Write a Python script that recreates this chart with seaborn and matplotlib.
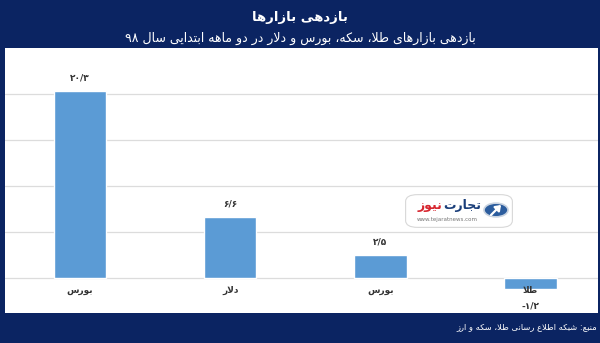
import re
import matplotlib
matplotlib.use("Agg")
import matplotlib.pyplot as plt
from matplotlib.patches import FancyBboxPatch, Circle, FancyArrowPatch
import seaborn as sns
import pandas as pd

# ---------------- data ----------------
categories = ["بورس", "دلار", "بورس", "طلا"]
values = [20.3, 6.6, 2.5, -1.2]
value_labels = ["۲۰/۳", "۶/۶", "۲/۵", "-۱/۲"]
title = "بازدهی بازارها"
subtitle = "بازدهی بازارهای طلا، سکه، بورس و دلار در دو ماهه ابتدایی سال ۹۸"
footer = "منبع: شبکه اطلاع رسانی طلا، سکه و ارز"
grid_ticks = [0, 5, 10, 15, 20]

# ---------------- minimal Persian shaping + bidi ----------------
FORMS = {
    '\u0627': ('\uFE8D', '\uFE8E', None, None),
    '\u0628': ('\uFE8F', '\uFE90', '\uFE91', '\uFE92'),
    '\u062A': ('\uFE95', '\uFE96', '\uFE97', '\uFE98'),
    '\u062C': ('\uFE9D', '\uFE9E', '\uFE9F', '\uFEA0'),
    '\u062F': ('\uFEA9', '\uFEAA', None, None),
    '\u0631': ('\uFEAD', '\uFEAE', None, None),
    '\u0632': ('\uFEAF', '\uFEB0', None, None),
    '\u0633': ('\uFEB1', '\uFEB2', '\uFEB3', '\uFEB4'),
    '\u0634': ('\uFEB5', '\uFEB6', '\uFEB7', '\uFEB8'),
    '\u0637': ('\uFEC1', '\uFEC2', '\uFEC3', '\uFEC4'),
    '\u0639': ('\uFEC9', '\uFECA', '\uFECB', '\uFECC'),
    '\u0644': ('\uFEDD', '\uFEDE', '\uFEDF', '\uFEE0'),
    '\u0645': ('\uFEE1', '\uFEE2', '\uFEE3', '\uFEE4'),
    '\u0646': ('\uFEE5', '\uFEE6', '\uFEE7', '\uFEE8'),
    '\u0647': ('\uFEE9', '\uFEEA', '\uFEEB', '\uFEEC'),
    '\u0648': ('\uFEED', '\uFEEE', None, None),
    '\u06A9': ('\uFB8E', '\uFB8F', '\uFB90', '\uFB91'),
    '\u06CC': ('\uFBFC', '\uFBFD', '\uFBFE', '\uFBFF'),
}
LAM_ALEF = ('\uFEFB', '\uFEFC')


def _jt(u):
    if u == 'LA':
        return 'R'
    if u in FORMS:
        return 'D' if FORMS[u][2] else 'R'
    return 'U'


def shape(text):
    units, i = [], 0
    while i < len(text):
        if text[i] == '\u0644' and i + 1 < len(text) and text[i + 1] == '\u0627':
            units.append('LA'); i += 2
        else:
            units.append(text[i]); i += 1
    out = []
    for k, u in enumerate(units):
        t = _jt(u)
        if t == 'U':
            out.append(u); continue
        jp = k > 0 and _jt(units[k - 1]) == 'D'
        jn = t == 'D' and k + 1 < len(units) and _jt(units[k + 1]) in ('D', 'R')
        if u == 'LA':
            out.append(LAM_ALEF[1] if jp else LAM_ALEF[0]); continue
        f = FORMS[u]
        out.append(f[3] if jp and jn else f[1] if jp else f[2] if jn else f[0])
    return ''.join(out)


def fa(text):
    s = shape(text)
    toks = re.findall(r'[0-9\u06F0-\u06F9/.]+|[^0-9\u06F0-\u06F9/.]+', s)
    vis = []
    for t in reversed(toks):
        vis.append(t if re.fullmatch(r'[0-9\u06F0-\u06F9/.]+', t) else t[::-1])
    return ''.join(vis)


# ---------------- figure ----------------
sns.set_theme(style="white")
plt.rcParams['font.family'] = ['DejaVu Sans']

W, H = 600, 343
NAVY = "#0b2462"
BAR = "#5b9bd5"

fig = plt.figure(figsize=(6, 3.43), dpi=100, facecolor=NAVY)
renderer = fig.canvas.get_renderer()

def fx(px):
    return px / W

def fy(py):
    return 1 - py / H

ax_left, ax_right, ax_top, ax_bot = 5, 598, 48, 313
ax = fig.add_axes([fx(ax_left), fy(ax_bot), fx(ax_right - ax_left), (ax_bot - ax_top) / H])
ax.set_facecolor("white")

df = pd.DataFrame({"key": list(range(len(values))), "value": values})
sns.barplot(data=df, x="key", y="value", color=BAR, saturation=1, width=0.35, ax=ax)

ax.set_xlim(-0.5, 3.45)
ax.set_ylim(-3.8, 25.0)
ax.set_yticks(grid_ticks)
ax.set_yticklabels([])
ax.set_xticks([])
ax.set_xlabel("")
ax.set_ylabel("")
ax.tick_params(length=0)
ax.grid(axis="y", color="#dcdcdc", linewidth=0.9)
ax.set_axisbelow(True)
for s in ax.spines.values():
    s.set_visible(False)

for i, (cat, v, lab) in enumerate(zip(categories, values, value_labels)):
    ax.text(i, -1.4, fa(cat), ha="center", va="center", fontsize=6.5,
            fontweight="bold", color="#333333", zorder=5)
    ypos = v + 1.4 if v >= 0 else -3.0
    ax.text(i, ypos, lab, ha="center", va="center", fontsize=6.5,
            fontweight="bold", color="#333333")

# watermark logo
box = FancyBboxPatch((fx(408), fy(226)), fx(102), (226 - 196) / H,
                     boxstyle="round,pad=0.004,rounding_size=0.02",
                     transform=fig.transFigure, facecolor="white",
                     edgecolor="#d8d8d8", linewidth=0.8, zorder=10)
fig.patches.append(box)
circ = Circle((fx(496), fy(210)), 12 / W, transform=fig.transFigure,
              facecolor="#2c5d9e", edgecolor="#c9d3e0", linewidth=1.2, zorder=11)
fig.patches.append(circ)
arr = FancyArrowPatch((fx(489), fy(217)), (fx(503), fy(203)), transform=fig.transFigure,
                      arrowstyle="-|>,head_width=2.2,head_length=3", color="white",
                      linewidth=1.6, zorder=12)
fig.patches.append(arr)
t1 = fig.text(fx(481), fy(206), fa("تجارت"), ha="right", va="center", fontsize=9,
              fontweight="bold", color="#1b3f7a", zorder=13)
w1 = t1.get_window_extent(renderer).width
fig.text(fx(481 - w1 - 1), fy(206), fa("نیوز"), ha="right", va="center", fontsize=9,
         fontweight="bold", color="#d7262f", zorder=13)
fig.text(fx(447), fy(220), "www.tejaratnews.com", ha="center", va="center",
         fontsize=4, color="#777777", zorder=13)

# titles
fig.text(0.5, fy(17), fa(title), ha="center", va="center", fontsize=9.5,
         fontweight="bold", color="white")
fig.text(0.5, fy(38), fa(subtitle), ha="center", va="center", fontsize=9,
         color="white")
fig.text(fx(597), fy(327), fa(footer), ha="right", va="center", fontsize=6,
         color="white")

fig.savefig("out.png", dpi=100, facecolor=NAVY)
